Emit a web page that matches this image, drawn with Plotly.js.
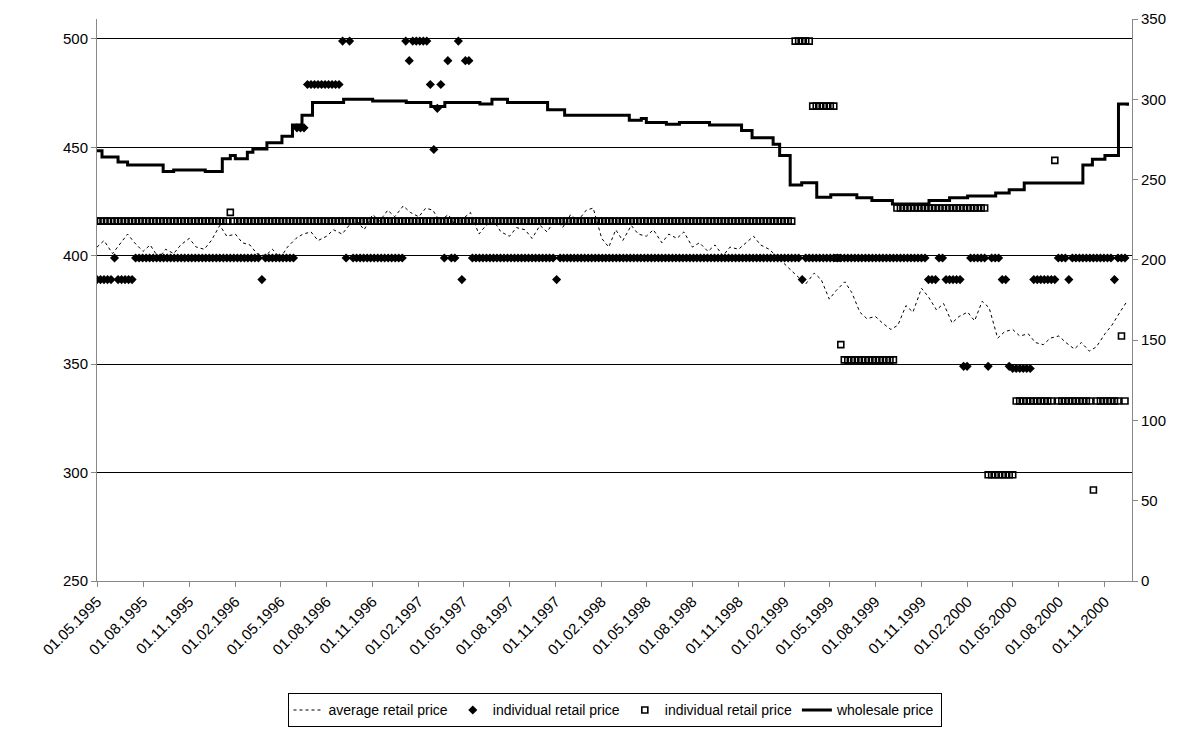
<!DOCTYPE html>
<html>
<head>
<meta charset="utf-8">
<script src="https://cdn.plot.ly/plotly-3.0.1.min.js"></script>
<style>body{margin:0;background:#fff}#chart{width:1191px;height:740px}</style>
</head>
<body>
<div id="chart"></div>
<script>
// weekly grid starts here
var startDate = '1995-05-01';
var weekCount = 294;

// average retail price, two readings per month (1st, 15th) from May 1995
var avgStartYear = 1995, avgStartMonth = 5;
var avgRetail = [
  404,407, 401,405, 410,406, 402,405, 399,403, 401,405, 408,404, 403,407,
  414,409, 410,406, 405,401, 400,403, 399,404, 408,410, 411,407, 409,412, 410,414, 416,412, 419,416, 421,418,
  423,420, 418,422, 421,416, 419,414, 417,420, 410,414, 416,411, 409,413, 412,408, 414,411, 417,413, 419,416,
  421,422, 408,404, 412,407, 414,410, 409,412, 406,410, 408,411, 404,406, 402,405, 400,404, 403,406, 409,405,
  403,400, 396,393, 390,387, 392,389, 380,384, 388,383, 374,371, 372,369, 366,368, 377,374, 385,381, 375,378,
  369,372, 374,370, 379,376, 362,365, 366,363, 364,360, 359,362, 363,360, 357,360, 356,358, 364,368, 374,379
];

// individual retail price (diamonds): [first week, value] runs
var diamondRuns = [
  [0,389],[5,399],[6,389],[11,399],[47,389],[48,399],[57,459],[60,479],[70,499],[71,399],[72,499],
  [73,399],[88,499],[89,490],[90,499],[95,479],[96,449],[97,468],[98,479],[99,399],[100,490],
  [101,399],[103,499],[104,389],[105,490],[107,399],[131,389],[132,399],[201,389],[202,399],
  [237,389],[240,399],[242,389],[247,349],[249,399],[254,349],[255,399],[258,389],[260,349],
  [261,348],[267,389],[274,399],[277,389],[278,399],[290,389],[291,399]
];

// individual retail price (squares): [first week, value] runs
var squareRuns = [
  [0,416],[38,420],[39,416],[199,499],[204,469],[211,399],[212,359],[213,352],[228,422],
  [254,299],[262,333],[273,444],[274,333],[284,292],[285,333],[292,363],[293,333]
];

// wholesale price (right axis), step changes
var wholesaleDates = ['1995-05-01','1995-05-11','1995-06-12','1995-07-01','1995-09-10','1995-10-01','1995-12-03',
  '1996-01-06','1996-01-22','1996-02-01','1996-02-25','1996-03-07','1996-04-04','1996-05-04','1996-05-25','1996-06-13',
  '1996-07-04','1996-09-04','1996-11-01','1997-01-07','1997-02-25','1997-03-25','1997-06-03','1997-06-27','1997-07-28',
  '1997-10-16','1997-11-19','1998-03-28','1998-04-21','1998-05-01','1998-06-10','1998-07-06','1998-09-04','1998-11-07',
  '1998-11-28','1999-01-09','1999-01-22','1999-02-12','1999-03-07','1999-04-06','1999-05-04','1999-06-25','1999-07-25',
  '1999-09-04','1999-11-16','1999-12-27','2000-02-01','2000-03-28','2000-04-24','2000-05-24','2000-09-18','2000-10-07',
  '2000-11-01','2000-11-28','2000-12-16'];
var wholesale = [268,264,261,259,255,256,255,
  263,265,263,267,269,273,277,284,290,
  298,300,299,298,295.5,298,297,300,298,
  293.5,290,287,288,285.5,284.5,285.5,284,280.6,
  276,272,265,246.6,248,239,240.5,238.7,237,
  234.8,237,238.7,239.7,241.6,243.6,247.8,259,262.6,
  265,297,296];

function weekDate(i){
  var d = new Date(startDate + 'T00:00:00Z');
  d.setUTCDate(d.getUTCDate() + 7*i);
  return d.toISOString().slice(0,10);
}
function expandRuns(runs){
  var xs = [], ys = [];
  for (var r = 0; r < runs.length; r++){
    var end = r+1 < runs.length ? runs[r+1][0] : weekCount;
    for (var w = runs[r][0]; w < end; w++){ xs.push(weekDate(w)); ys.push(runs[r][1]); }
  }
  return {x:xs, y:ys};
}
var avgDates = [];
for (var i = 0; i < avgRetail.length; i++){
  var m = avgStartMonth - 1 + Math.floor(i/2);
  var y = avgStartYear + Math.floor(m/12);
  var mm = (m%12)+1;
  avgDates.push(y + '-' + (mm<10?'0':'') + mm + (i%2 ? '-15' : '-01'));
}
var dia = expandRuns(diamondRuns);
var sq = expandRuns(squareRuns);

var traces = [
  {x:avgDates, y:avgRetail, mode:'lines', name:'average retail price',
   line:{color:'#000', width:1, dash:'dot'}},
  {x:dia.x, y:dia.y, mode:'markers', name:'individual retail price',
   marker:{symbol:'diamond', size:7, color:'#000'}},
  {x:sq.x, y:sq.y, mode:'markers', name:'individual retail price',
   marker:{symbol:'square-open', size:6, color:'#000', line:{width:1.6}}},
  {x:wholesaleDates, y:wholesale, mode:'lines', name:'wholesale price', yaxis:'y2',
   line:{color:'#000', width:3, shape:'hv'}}
];

var layout = {
  width:1191, height:740,
  margin:{l:97, r:59, t:19, b:150},
  font:{family:'Liberation Sans, Arial, sans-serif', size:15, color:'#000'},
  paper_bgcolor:'#fff', plot_bgcolor:'#fff',
  showlegend:true,
  legend:{orientation:'h', x:0.5, xanchor:'center', y:-0.2, yanchor:'top',
    bordercolor:'#000', borderwidth:1, font:{size:14}, tracegroupgap:0},
  xaxis:{type:'date', range:['1995-05-01','2000-12-25'], tick0:'1995-05-01', dtick:'M3',
    tickformat:'%d.%m.%Y', tickangle:-45, ticks:'outside', ticklen:5, tickcolor:'#888',
    showgrid:false, showline:true, linecolor:'#888', zeroline:false, automargin:false},
  yaxis:{range:[250,509.2], dtick:50, ticks:'outside', ticklen:5, tickcolor:'#888', automargin:false,
    showgrid:true, gridcolor:'#000', gridwidth:1, showline:true, linecolor:'#888', zeroline:false},
  yaxis2:{overlaying:'y', side:'right', range:[0,350], dtick:50, ticks:'outside', ticklen:5, automargin:false,
    tickcolor:'#888', showgrid:false, showline:true, linecolor:'#888', zeroline:false}
};

Plotly.newPlot('chart', traces, layout, {displayModeBar:false, staticPlot:true});
</script>
</body>
</html>
